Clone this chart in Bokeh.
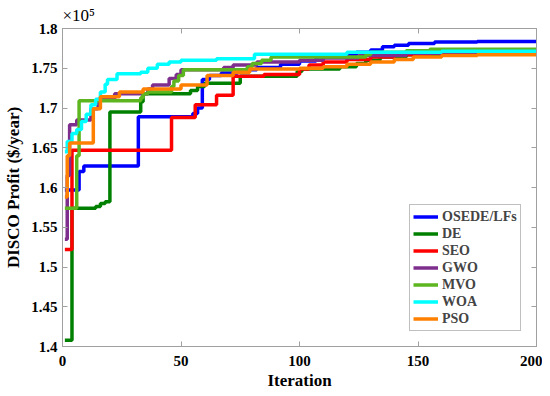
from bokeh.plotting import figure
from bokeh.models import Range1d, LinearAxis, FixedTicker, Legend, LegendItem, Title
from bokeh.embed import file_html
from bokeh.resources import INLINE

# ---- data (values in units of 1e5 $/year) ----
osede_it = [1, 7, 9, 32, 55, 57, 59, 62, 67, 74, 82, 92, 100, 107, 116, 124, 130, 135, 140, 146, 157, 175, 200]
osede_v = [1.597, 1.620, 1.627, 1.689, 1.693, 1.700, 1.736, 1.741, 1.744, 1.748, 1.751, 1.755, 1.759, 1.764, 1.767, 1.770, 1.773, 1.777, 1.779, 1.781, 1.783, 1.7835, 1.7835]

de_it = [1, 4, 14, 16, 18, 20, 33, 34, 54, 57, 60, 75, 99, 101, 117, 124, 128, 134, 145, 160, 180, 200]
de_v = [1.408, 1.574, 1.576, 1.580, 1.582, 1.695, 1.708, 1.718, 1.722, 1.727, 1.731, 1.740, 1.746, 1.749, 1.752, 1.756, 1.760, 1.764, 1.767, 1.769, 1.770, 1.770]

seo_it = [1, 4, 46, 56, 65, 72, 85, 100, 104, 110, 120, 130, 140, 155, 200]
seo_v = [1.522, 1.647, 1.688, 1.704, 1.716, 1.740, 1.742, 1.749, 1.754, 1.758, 1.761, 1.764, 1.767, 1.769, 1.770]

gwo_it = [1, 2, 3, 6, 12, 15, 22, 36, 38, 45, 48, 50, 68, 72, 82, 100, 110, 125, 145, 200]
gwo_v = [1.535, 1.615, 1.679, 1.685, 1.699, 1.711, 1.718, 1.724, 1.729, 1.737, 1.742, 1.748, 1.751, 1.754, 1.758, 1.760, 1.763, 1.766, 1.769, 1.7695]

mvo_it = [1, 6, 7, 33, 34, 36, 46, 47, 49, 51, 78, 80, 84, 88, 128, 130, 145, 155, 200]
mvo_v = [1.574, 1.640, 1.709, 1.713, 1.718, 1.720, 1.727, 1.734, 1.741, 1.748, 1.752, 1.756, 1.760, 1.764, 1.767, 1.770, 1.772, 1.774, 1.7745]

woa_it = [1, 2, 4, 6, 8, 10, 12, 14, 16, 18, 19, 23, 33, 36, 40, 45, 50, 65, 81, 120, 160, 200]
woa_v = [1.645, 1.658, 1.668, 1.673, 1.683, 1.692, 1.704, 1.711, 1.720, 1.730, 1.736, 1.743, 1.745, 1.750, 1.755, 1.758, 1.760, 1.762, 1.7675, 1.770, 1.7715, 1.772]

pso_it = [1, 2, 3, 13, 16, 24, 34, 50, 61, 72, 79, 100, 110, 120, 130, 140, 148, 160, 175, 200]
pso_v = [1.588, 1.640, 1.656, 1.699, 1.714, 1.720, 1.724, 1.729, 1.741, 1.745, 1.749, 1.750, 1.752, 1.755, 1.758, 1.761, 1.764, 1.766, 1.767, 1.768]

series_names = ["OSEDE/LFs", "DE", "SEO", "GWO", "MVO", "WOA", "PSO"]
series_colors = ["#0000FF", "#008000", "#FF0000", "#7E2F8E", "#5DB51F", "#00FFFF", "#FF8000"]
series_data = [(osede_it, osede_v), (de_it, de_v), (seo_it, seo_v), (gwo_it, gwo_v),
               (mvo_it, mvo_v), (woa_it, woa_v), (pso_it, pso_v)]

x_ticks = [0, 50, 100, 150, 200]
y_ticks = [1.4, 1.45, 1.5, 1.55, 1.6, 1.65, 1.7, 1.75, 1.8]
y_tick_labels = ["1.4", "1.45", "1.5", "1.55", "1.6", "1.65", "1.7", "1.75", "1.8"]
exponent_label = "×10⁵"

FONT = "Liberation Serif"
AX = "#a0a0a0"

p = figure(width=542, height=392, output_backend="svg", toolbar_location=None,
           x_range=Range1d(0, 200), y_range=Range1d(1.4, 1.8),
           min_border_left=62, min_border_right=6, min_border_top=26, min_border_bottom=45)
p.grid.visible = False
p.outline_line_color = AX
p.background_fill_color = "white"
p.border_fill_color = "white"

renderers = []
for (it, v), c in zip(series_data, series_colors):
    r = p.step(it, v, mode="after", line_color=c, line_width=3.5)
    renderers.append(r)

for ax in (p.xaxis[0], p.yaxis[0]):
    ax.axis_line_color = AX
    ax.major_tick_line_color = AX
    ax.minor_tick_line_color = None
    ax.major_tick_in = 5
    ax.major_tick_out = 0
    ax.major_label_text_font = FONT
    ax.major_label_text_font_style = "bold"
    ax.major_label_text_font_size = "15px"
    ax.major_label_text_color = "black"
    ax.axis_label_text_font = FONT
    ax.axis_label_text_font_style = "bold"
    ax.axis_label_text_font_size = "17px"
    ax.axis_label_text_color = "black"

p.xaxis[0].ticker = FixedTicker(ticks=x_ticks)
p.yaxis[0].ticker = FixedTicker(ticks=y_ticks)
p.yaxis[0].major_label_overrides = {t: s for t, s in zip(y_ticks, y_tick_labels)}
p.xaxis[0].axis_label = "Iteration"
p.yaxis[0].axis_label = "DISCO Profit ($/year)"
p.xaxis[0].major_label_standoff = 9
p.yaxis[0].major_label_standoff = 5
p.xaxis[0].axis_label_standoff = 2
p.yaxis[0].axis_label_standoff = 5

top = LinearAxis(ticker=FixedTicker(ticks=x_ticks), major_label_text_font_size="0px",
                 major_label_text_color=None,
                 axis_line_color=AX, major_tick_line_color=AX, minor_tick_line_color=None,
                 major_tick_in=5, major_tick_out=0)
right = LinearAxis(ticker=FixedTicker(ticks=y_ticks), major_label_text_font_size="0px",
                   major_label_text_color=None,
                   axis_line_color=AX, major_tick_line_color=AX, minor_tick_line_color=None,
                   major_tick_in=5, major_tick_out=0)
p.add_layout(top, "above")
p.add_layout(right, "right")

p.add_layout(Title(text=exponent_label, align="left", text_font=FONT, text_font_size="17px",
                   text_font_style="normal", text_color="black", standoff=7, offset=0), "above")

legend = Legend(items=[LegendItem(label=n, renderers=[r]) for n, r in zip(series_names, renderers)],
                location=(347, 15), label_text_font=FONT, label_text_font_style="bold",
                label_text_font_size="14px", label_height=17, glyph_height=17, glyph_width=25,
                spacing=0, padding=3, margin=0, border_line_color="#808080",
                label_standoff=4, background_fill_alpha=1.0)
p.add_layout(legend, "center")

open("out.html", "w").write(file_html(p, INLINE))
